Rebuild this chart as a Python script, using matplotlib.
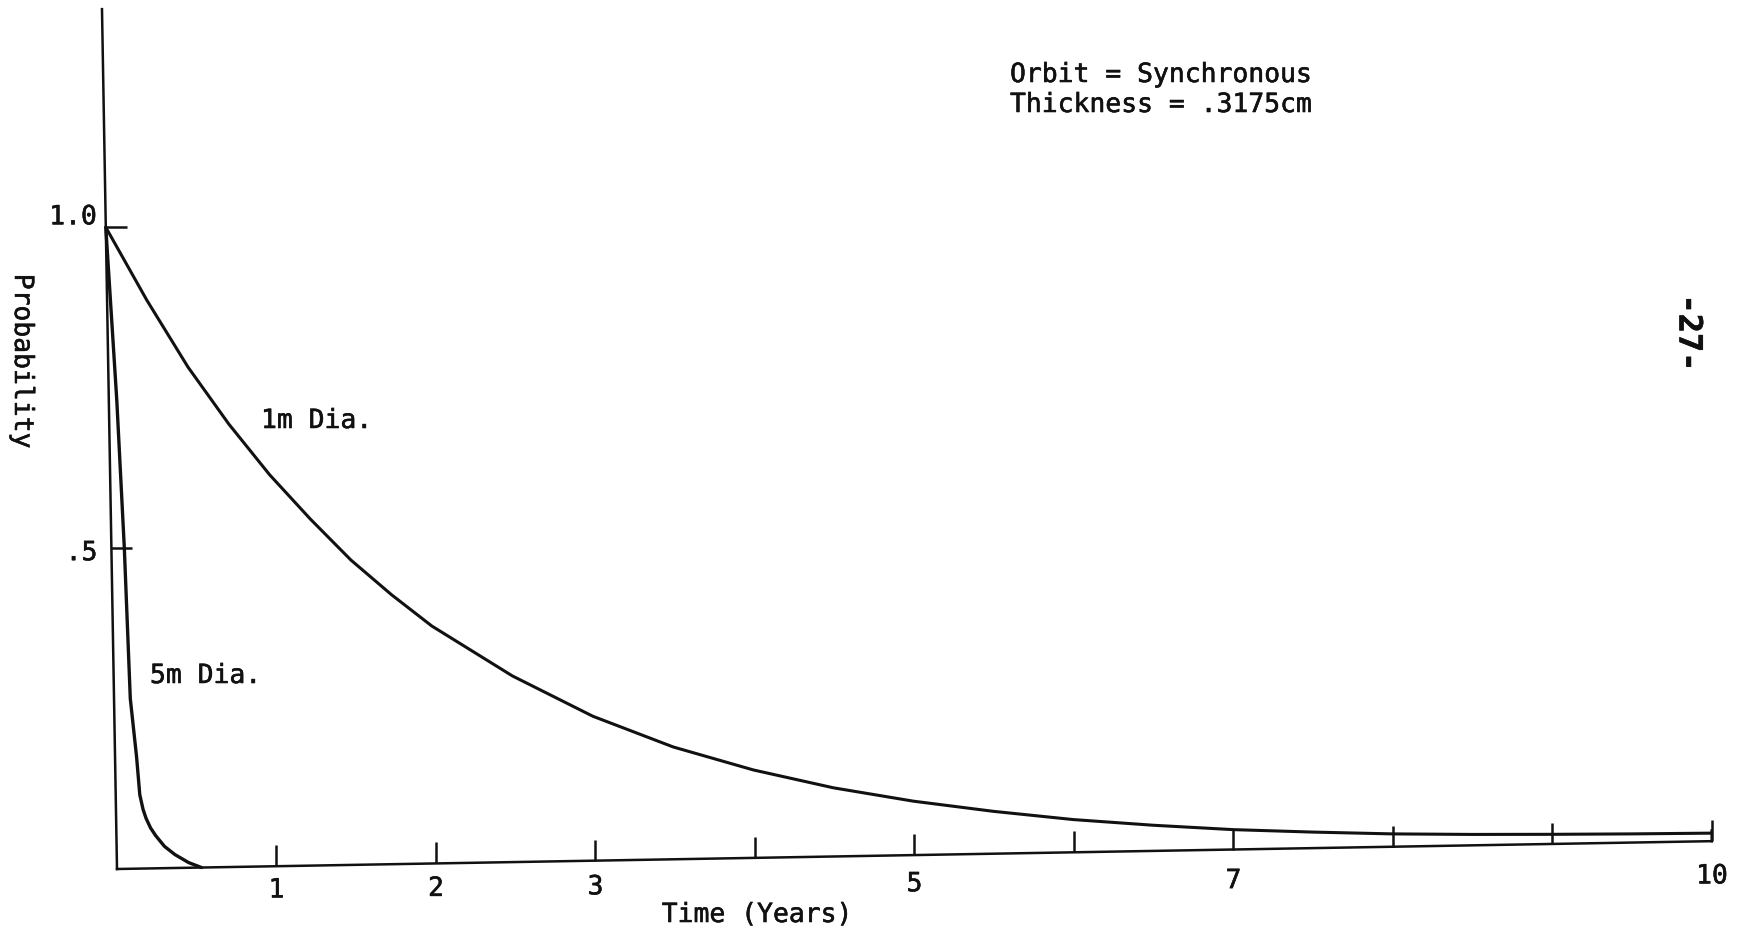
import matplotlib
matplotlib.use("Agg")
import matplotlib.pyplot as plt
import matplotlib.patheffects as pe
from matplotlib.transforms import Affine2D, offset_copy

# Survival probability versus time, synchronous orbit, 0.3175 cm wall
TIME_1M = [0.0, 0.25, 0.5, 0.75, 1.0, 1.25, 1.5, 1.75, 2.0, 2.5, 3.0, 3.5, 4.0, 4.5,
           5.0, 5.5, 6.0, 6.5, 7.0, 7.5, 8.0, 8.5, 9.0, 9.5, 10.0]
PROB_1M = [1.0, 0.885, 0.78, 0.69, 0.61, 0.54, 0.475, 0.42, 0.37, 0.29, 0.225, 0.175,
           0.137, 0.107, 0.084, 0.066, 0.051, 0.04, 0.031, 0.025, 0.02, 0.017, 0.015,
           0.0135, 0.0125]

TIME_5M = [0.0, 0.05, 0.081, 0.102, 0.135, 0.151, 0.17, 0.188, 0.215, 0.246, 0.30,
           0.364, 0.45, 0.53]
PROB_5M = [1.0, 0.73, 0.50, 0.265, 0.174, 0.115, 0.092, 0.078, 0.063, 0.051, 0.034,
           0.021, 0.008, 0.0]

X_TICKS = [1, 2, 3, 4, 5, 6, 7, 8, 9, 10]
X_TICK_LABELS = {1: "1", 2: "2", 3: "3", 5: "5", 7: "7", 10: "10"}
Y_TICKS = [0.5, 1.0]
Y_TICK_LABELS = [".5", "1.0"]
X_MAX, Y_MAX = 10.0, 1.34

W, H = 1741, 934
plt.rcParams["font.family"] = ["DejaVu Sans Mono"]
FS = 19
INK = "#111111"
HEAVY = [pe.withStroke(linewidth=0.4, foreground=INK)]

fig = plt.figure(figsize=(W / 100, H / 100), dpi=100)
fig.patch.set_facecolor("white")

# plot frame, origin in pixels
ox, oy = 117, 65
ax = fig.add_axes([ox / W, oy / H, 1595 / W, 860 / H])
ax.set_xlim(0, X_MAX)
ax.set_ylim(0, Y_MAX)
ax.axis("off")

# the hand-drawn frame sits slightly tilted on the page; typed labels less so
tr = ax.transData + Affine2D().rotate_deg_around(ox, oy, 1.0)
tr_lab = ax.transData + Affine2D().rotate_deg_around(ox, oy, 0.56)

# axes
ax.plot([0, X_MAX], [0, 0], color=INK, lw=1.8, transform=tr, clip_on=False)
ax.plot([0, 0], [0, Y_MAX], color=INK, lw=1.8, transform=tr, clip_on=False)

# tick marks
ax.plot(X_TICKS, [0] * len(X_TICKS), linestyle="none", marker=2, markersize=15,
        markeredgewidth=1.8, color=INK, transform=tr, clip_on=False)
ax.plot([0] * len(Y_TICKS), Y_TICKS, linestyle="none", marker=1, markersize=15,
        markeredgewidth=1.8, color=INK, transform=tr, clip_on=False)

# tick labels
for t, lab in X_TICK_LABELS.items():
    ax.text(t, 0, lab, transform=offset_copy(tr_lab, fig, y=-23, units="dots"),
            ha="center", va="center", fontsize=FS, color=INK, path_effects=HEAVY)
y_offsets = {".5": (-14, -5), "1.0": (-9, 10)}
for v, lab in zip(Y_TICKS, Y_TICK_LABELS):
    dx, dy = y_offsets[lab]
    ax.text(0, v, lab, transform=offset_copy(tr, fig, x=dx, y=dy, units="dots"),
            ha="right", va="center", fontsize=FS, color=INK, path_effects=HEAVY)

# curves
ax.plot(TIME_1M, PROB_1M, color=INK, lw=2.2, transform=tr, clip_on=False,
        solid_joinstyle="round", solid_capstyle="round")
ax.plot(TIME_5M, PROB_5M, color=INK, lw=2.4, transform=tr, clip_on=False,
        solid_joinstyle="round", solid_capstyle="round")
# closing tick at the end of the 1m curve
ax.plot([X_MAX, X_MAX], [0, PROB_1M[-1] + 0.004], color=INK, lw=1.8, transform=tr,
        clip_on=False)


def px(x, y):
    return x / W, 1 - y / H


def label(x, y, s, **kw):
    kw.setdefault("ha", "left")
    kw.setdefault("va", "baseline")
    kw.setdefault("fontsize", FS)
    fig.text(*px(x, y), s, color=INK, path_effects=HEAVY, **kw)


label(261, 428, "1m Dia.")
label(150, 683, "5m Dia.")
label(1010, 82, "Orbit = Synchronous")
label(1010, 112, "Thickness = .3175cm")
label(757, 915, "Time (Years)", ha="center", va="center")
label(22, 361, "Probability", ha="center", va="center", rotation=-90)
label(1688, 333, "-27-", ha="center", va="center", rotation=-90, fontsize=23,
      fontweight="bold")

fig.savefig("out.png", dpi=100, facecolor="white")
